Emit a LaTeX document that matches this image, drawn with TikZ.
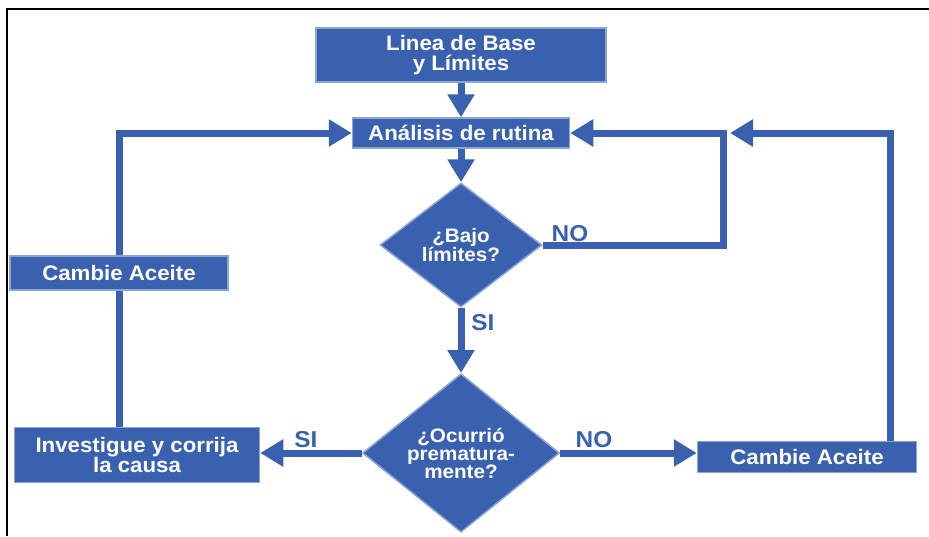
\documentclass[tikz,border=0pt]{standalone}
\usepackage{fontspec}
\setmainfont{Liberation Sans}[FakeStretch=1.06]
\usetikzlibrary{arrows.meta,shapes.geometric}
\definecolor{flowblue}{RGB}{58,97,176}
\definecolor{flowedge}{RGB}{140,165,210}
\begin{document}
\begin{tikzpicture}[x=1pt,y=-1pt,
  box/.style={rectangle, fill=flowblue, draw=flowedge, line width=1.5pt, text=white,
    font=\bfseries\fontsize{21}{20}\selectfont, align=center, inner sep=0pt},
  decision/.style={diamond, fill=flowblue, draw=flowedge, line width=1.5pt, text=white,
    font=\bfseries\fontsize{19.5}{18}\selectfont, align=center, inner sep=0pt},
  flow/.style={draw=flowblue, line width=7pt},
  arrowflow/.style={flow, -{Triangle[width=26pt,length=23pt]}},
  tag/.style={text=flowblue, font=\bfseries\fontsize{23}{23}\selectfont, inner sep=0pt}]

\useasboundingbox (0,0) rectangle (929,536);
% frame
\draw[line width=2.5pt] (7,536) -- (7,9) -- (929,9);

% nodes
\node[box, minimum width=290pt, minimum height=54pt] (base) at (461,55) {Linea de Base\\y Límites};
\node[box, minimum width=217pt, minimum height=30pt] (rut) at (461,133) {Análisis de rutina};
\node[decision, minimum width=162pt, minimum height=124pt] (bajo) at (461,245) {¿Bajo\\límites?};
\node[decision, minimum width=197pt, minimum height=155pt] (ocu) at (461,453) {¿Ocurrió\\prematura-\\mente?};
\node[box, minimum width=219pt, minimum height=31pt] (rcam) at (807,457) {Cambie Aceite};
\node[box, minimum width=245pt, minimum height=55pt] (inv) at (137,455) {Investigue y corrija\\la causa};
\node[box, minimum width=218pt, minimum height=34pt] (cal) at (119,273) {Cambie Aceite};

% helper points
\coordinate (nocorner) at (723,245);
\coordinate (rtop) at (890,133);
\coordinate (rtip) at (730,133);

% connectors
\draw[arrowflow] (base) -- (rut);
\draw[arrowflow] (rut) -- (bajo);
\draw[arrowflow] (bajo.east) -- (nocorner) |- (rut.east);
\draw[arrowflow] (bajo) -- (ocu);
\draw[arrowflow] (ocu.east) -- (ocu.east -| rcam.west);
\draw[arrowflow] (ocu.west) -- (ocu.west -| inv.east);
\draw[flow] (inv.north -| cal) -- (cal.south);
\draw[arrowflow] (cal.north) |- (rut.west);
\draw[arrowflow] (rcam.north -| rtop) -- (rtop) -- (rtip);

% labels
\node[tag] (lno1) at (570,234) {NO};
\node[tag] (lsi1) at (483,323) {SI};
\node[tag] (lno2) at (594,440) {NO};
\node[tag] (lsi2) at (306,440) {SI};
\end{tikzpicture}
\end{document}
